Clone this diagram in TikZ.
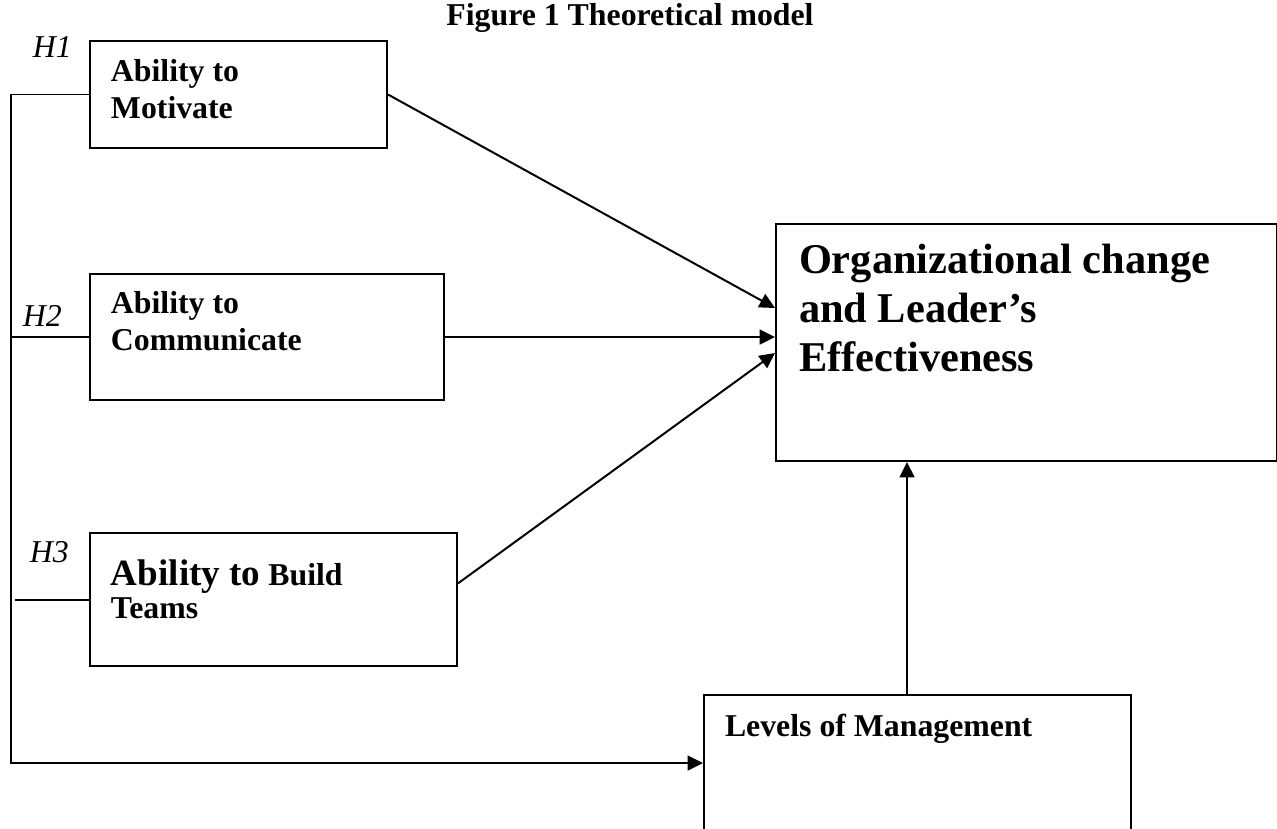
\documentclass[tikz,border=0pt]{standalone}
\usepackage{fontspec}
\setmainfont{Liberation Serif}
\usetikzlibrary{arrows.meta,positioning}

\begin{document}
\begin{tikzpicture}[x=0.3774pt, y=-0.3774pt, line width=0.75pt,
    box/.style 2 args={draw, rectangle, inner sep=0pt, anchor=north west,
        minimum width=#1*0.3774pt, minimum height=#2*0.3774pt},
    txt/.style={inner sep=0pt, anchor=north west, align=left, font=\bfseries\fontsize{12}{14}\selectfont},
    hyp/.style={inner sep=0pt, anchor=base west, font=\itshape\fontsize{12}{14}\selectfont},
    arr/.style={-{Triangle[length=5.8pt,width=5.6pt]}}]
    \useasboundingbox (0,0) rectangle (1277,828);
    \clip (0,0) rectangle (1277,828);

    \node[inner sep=0pt, anchor=base, font=\bfseries\fontsize{12}{14}\selectfont] (title) at (630,25) {Figure 1 Theoretical model};

    % boxes
    \node[box={297}{107}] (mot) at (89,40) {};
    \node[box={354}{126}] (com) at (89,273) {};
    \node[box={367}{133}] (tea) at (89,532) {};
    \node[box={501}{237}] (org) at (775,223) {};
    \node[box={427}{138}] (lev) at (703,694) {};

    % texts
    \node[txt] (mot-t) at (110,58) {Ability to\\Motivate};
    \node[txt] (com-t) at (110,290) {Ability to\\Communicate};
    \node[txt, font=\bfseries\fontsize{12}{12.5}\selectfont] (tea-t) at (110,559) {{\fontsize{14}{14}\selectfont Ability to} Build\\Teams};
    \node[txt, font=\bfseries\fontsize{16}{18.5}\selectfont] (org-t) at (798,243) {Organizational change\\and Leader’s\\Effectiveness};
    \node[txt] (lev-t) at (724,713) {Levels of Management};

    \node[hyp] (h1) at (32,57) {H1};
    \node[hyp] (h2) at (22,326) {H2};
    \node[hyp] (h3) at (29,562) {H3};

    \coordinate (bus) at (11,763);
    \coordinate (h3end) at (15,598);
    \coordinate (in1) at (775,308);
    \coordinate (in3) at (775,353);
    \coordinate (up) at (907,694);

    % connectors
    \draw[arr] (mot.west) -| (bus) -- (bus -| lev.west);
    \draw (com.west) -- (com.west -| bus);
    \draw (tea.west) -- (tea.west -| h3end);
    \draw[arr] (mot.east) -- (in1);
    \draw[arr] (com.east) -- (com.east -| org.west);
    \draw[arr] (tea.5) -- (in3);
    \draw[arr] (up) -- (up |- org.south);
\end{tikzpicture}
\end{document}
